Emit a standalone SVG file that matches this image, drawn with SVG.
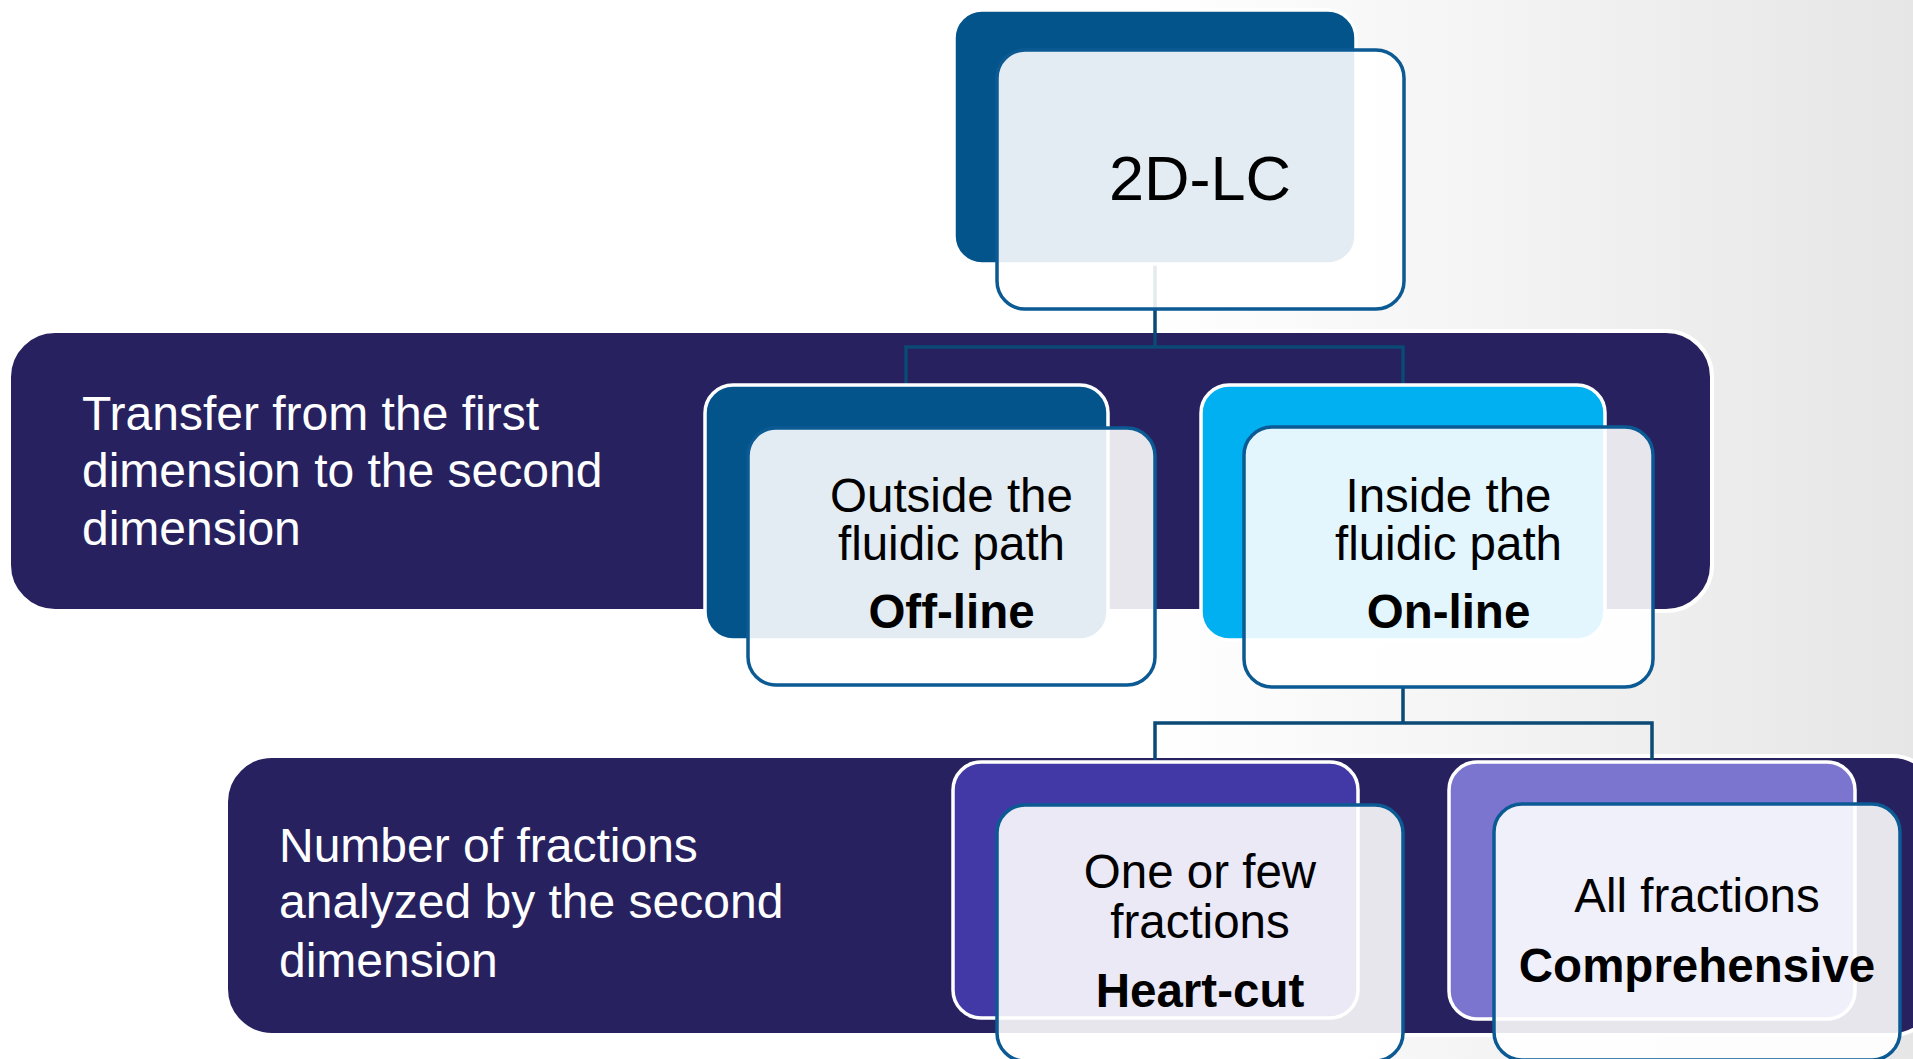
<svg xmlns="http://www.w3.org/2000/svg" width="1913" height="1059" viewBox="0 0 1913 1059">
  <defs>
    <linearGradient id="bgFade" gradientUnits="userSpaceOnUse" x1="1150" y1="0" x2="1913" y2="0">
      <stop offset="0" stop-color="#FFFFFF"/>
      <stop offset="1" stop-color="#E6E6E6"/>
    </linearGradient>
  </defs>
  <style>
    .band { fill: #27225F; stroke: #FFFFFF; stroke-width: 4; }
    .bandText { font-family: "Liberation Sans", Arial, sans-serif; font-size: 48px; fill: #FFFFFF; }
    .back { stroke: #FFFFFF; stroke-width: 3.5; }
    .front { fill: #FFFFFF; fill-opacity: 0.89; stroke: #0B5A94; stroke-width: 3.5; }
    .label { font-family: "Liberation Sans", Arial, sans-serif; font-size: 47.5px; fill: #000000; text-anchor: middle; }
    .strong { font-weight: bold; }
    .link { fill: none; stroke: #0A4A75; stroke-width: 3.5; }
  </style>

  <!-- page background -->
  <rect x="0" y="0" width="1913" height="1059" fill="url(#bgFade)"/>

  <!-- level bands -->
  <g id="band-transfer">
    <rect class="band" x="9" y="331" width="1703" height="280" rx="46" ry="46"/>
    <text class="bandText" x="82" y="430">Transfer from the first</text>
    <text class="bandText" x="82" y="487">dimension to the second</text>
    <text class="bandText" x="82" y="545">dimension</text>
  </g>
  <g id="band-fractions">
    <rect class="band" x="226" y="756" width="1712" height="279" rx="46" ry="46"/>
    <text class="bandText" x="279" y="862">Number of fractions</text>
    <text class="bandText" x="279" y="918">analyzed by the second</text>
    <text class="bandText" x="279" y="977">dimension</text>
  </g>

  <!-- connectors -->
  <g id="connectors">
    <path class="link" d="M1155,264 V347 M906,385 V347 H1403 V385"/>
    <path class="link" d="M1403,687 V723 M1155,762 V723 H1652 V762"/>
  </g>

  <!-- nodes -->
  <g id="node-2dlc">
    <rect class="back" x="954" y="10" width="402" height="254" rx="28" ry="28" fill="#04548C" stroke="none"/>
    <rect class="front" x="997" y="50" width="407" height="259" rx="28" ry="28"/>
    <text class="label" x="1200" y="200" style="font-size:63px">2D-LC</text>
  </g>

  <g id="node-offline">
    <rect class="back" x="705" y="385" width="403" height="255" rx="28" ry="28" fill="#04548C"/>
    <rect class="front" x="748" y="428" width="407" height="257" rx="28" ry="28"/>
    <text class="label" x="951.5" y="512">Outside the</text>
    <text class="label" x="951.5" y="560">fluidic path</text>
    <text class="label strong" x="951.5" y="628">Off-line</text>
  </g>

  <g id="node-online">
    <rect class="back" x="1201" y="385" width="404" height="255" rx="28" ry="28" fill="#00B0F0"/>
    <rect class="front" x="1244" y="427" width="409" height="260" rx="28" ry="28"/>
    <text class="label" x="1448.5" y="512">Inside the</text>
    <text class="label" x="1448.5" y="560">fluidic path</text>
    <text class="label strong" x="1448.5" y="628">On-line</text>
  </g>

  <g id="node-heartcut">
    <rect class="back" x="953" y="762" width="405" height="256" rx="28" ry="28" fill="#4339A6"/>
    <rect class="front" x="997" y="805" width="406" height="256" rx="28" ry="28"/>
    <text class="label" x="1200" y="888">One or few</text>
    <text class="label" x="1200" y="938">fractions</text>
    <text class="label strong" x="1200" y="1007">Heart-cut</text>
  </g>

  <g id="node-comprehensive">
    <rect class="back" x="1449" y="762" width="406" height="257" rx="28" ry="28" fill="#7B75CF"/>
    <rect class="front" x="1494" y="804" width="406" height="256" rx="28" ry="28"/>
    <text class="label" x="1697" y="912">All fractions</text>
    <text class="label strong" x="1697" y="982">Comprehensive</text>
  </g>
</svg>
